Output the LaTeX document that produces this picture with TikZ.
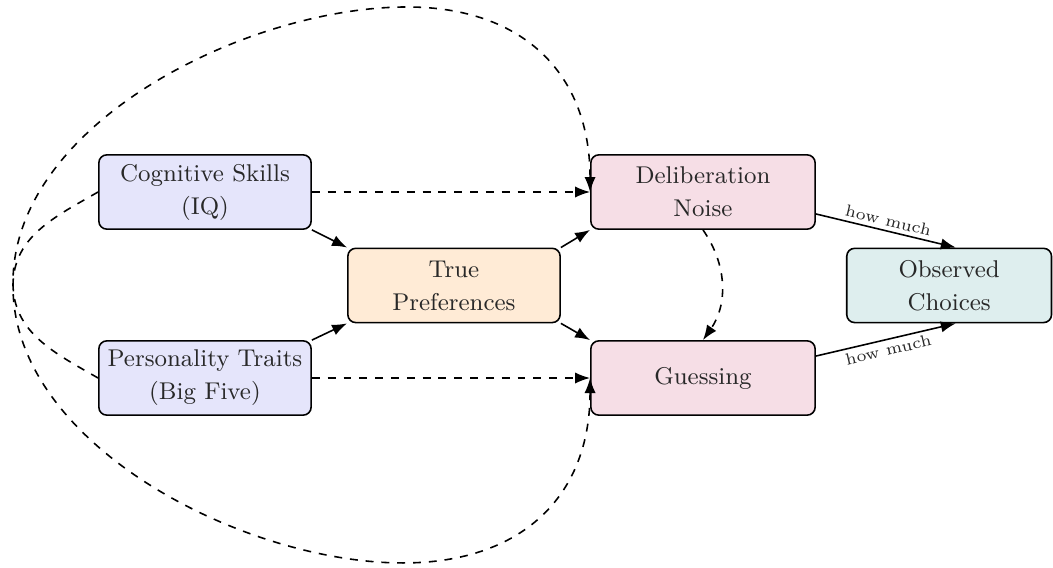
\documentclass[tikz,border=0pt]{standalone}
\usepackage{tikz}
\usetikzlibrary{arrows.meta}

\definecolor{skillcol}{RGB}{229,229,251}
\definecolor{prefcol}{RGB}{255,235,214}
\definecolor{noisecol}{RGB}{246,222,230}
\definecolor{obscol}{RGB}{222,238,238}
\definecolor{txtcol}{RGB}{40,40,40}

\begin{document}
\begin{tikzpicture}[
    box/.style={draw, semithick, rounded corners=3pt, align=center, minimum height=0.99cm,
        text=txtcol, font=\fontsize{9.2}{12.5}\selectfont},
    arr/.style={-{Latex[length=2mm,width=1.5mm]}, semithick},
    lbl/.style={font=\fontsize{6.2}{7}\selectfont, text=txtcol, inner sep=1.5pt}
]

    \useasboundingbox (0,0) rectangle (14.04,7.573);

    % boxes
    \node[box, fill=skillcol, minimum width=2.83cm] (cog) at (2.733,5.013) {Cognitive Skills\\(IQ)};
    \node[box, fill=skillcol, minimum width=2.83cm] (pers) at (2.733,2.533) {Personality Traits\\(Big Five)};
    \node[box, fill=prefcol, minimum width=2.83cm] (pref) at (6.053,3.767) {True\\Preferences};
    \node[box, fill=noisecol, minimum width=2.99cm] (delib) at (9.373,5.013) {Deliberation\\Noise};
    \node[box, fill=noisecol, minimum width=2.99cm] (guess) at (9.373,2.533) {Guessing};
    \node[box, fill=obscol, minimum width=2.73cm] (obs) at (12.655,3.767) {Observed\\Choices};

    % points for the long loops
    \coordinate (upleft) at (0.173,3.80);
    \coordinate (lowleft) at (0.173,3.76);
    \coordinate (loopTop) at (5.427,7.48);
    \coordinate (loopBot) at (5.373,0.067);

    % solid arrows
    \draw[arr] (cog.south east) -- (pref.north west);
    \draw[arr] (pers.north east) -- (pref.south west);
    \draw[arr] (pref.north east) -- (delib.south west);
    \draw[arr] (pref.south east) -- (guess.north west);
    \draw[arr] (delib.-11) -- node[lbl, above, sloped] {how much} (obs.80);
    \draw[arr] (guess.11) -- node[lbl, below, sloped] {how much} (obs.-80);

    % dashed arrows
    \draw[arr, dashed] (cog.east) -- (delib.west);
    \draw[arr, dashed] (pers.east) -- (guess.west);
    \draw[arr, dashed] (delib.south) to[bend left=35] (guess.north);

    \draw[arr, dashed] (pers.west) to[out=150, in=-90] (upleft)
        to[out=90, in=180, looseness=0.85] (loopTop)
        to[out=0, in=90, looseness=1.15] (delib.west);
    \draw[arr, dashed] (cog.west) to[out=210, in=90] (lowleft)
        to[out=-90, in=180, looseness=0.85] (loopBot)
        to[out=0, in=-90, looseness=1.15] (guess.west);

\end{tikzpicture}
\end{document}
